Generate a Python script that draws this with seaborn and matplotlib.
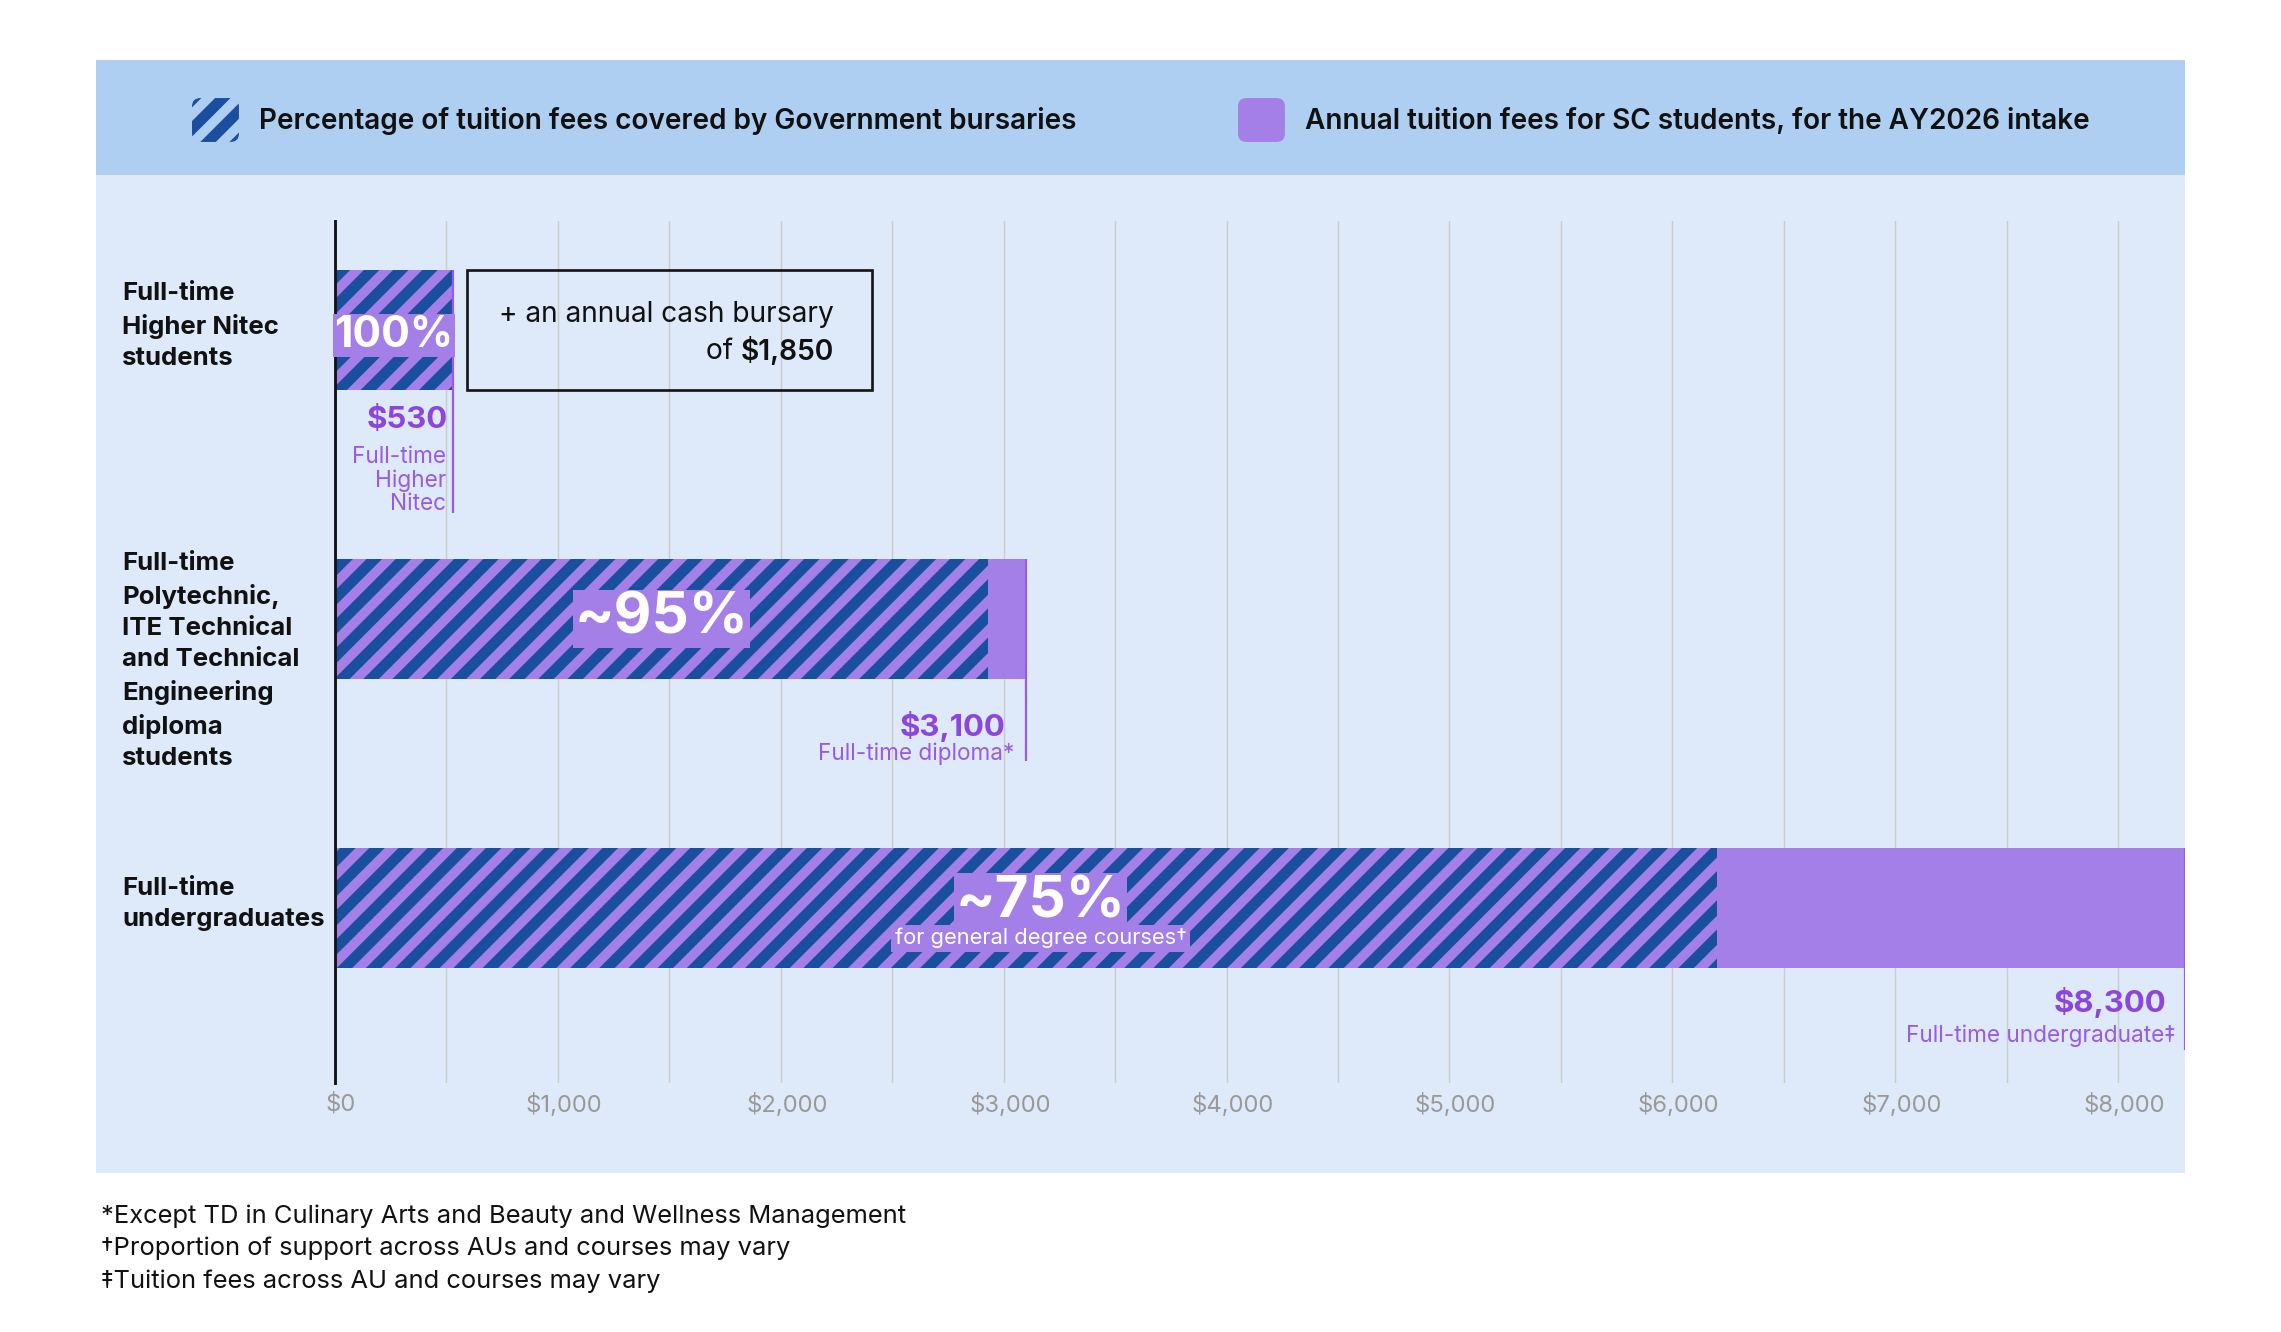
import numpy as np
import pandas as pd
import seaborn as sns
import matplotlib.pyplot as plt
import matplotlib.transforms as mtransforms
from matplotlib.patches import Patch, Rectangle, FancyBboxPatch
from matplotlib.legend_handler import HandlerPatch
from matplotlib.ticker import MultipleLocator, FuncFormatter

# data
groups = ['Higher Nitec', 'Diploma', 'Undergraduate']
group_labels = ['Full-time\nHigher Nitec\nstudents',
                'Full-time\nPolytechnic,\nITE Technical\nand Technical\nEngineering\ndiploma\nstudents',
                'Full-time\nundergraduates']
annual_fees = [530, 3100, 8300]
covered_fees = [530, 2930, 6200]
pct_labels = ['100%', '~95%', '~75%']
fee_labels = ['$530', '$3,100', '$8,300']
fee_notes = ['Full-time\nHigher\nNitec', 'Full-time diploma*', 'Full-time undergraduate\u2021']
footnotes = ['*Except TD in Culinary Arts and Beauty and Wellness Management',
             '\u2020Proportion of support across AUs and courses may vary',
             '\u2021Tuition fees across AU and courses may vary']
legend_labels = ['Percentage of tuition fees covered by Government bursaries',
                 'Annual tuition fees for SC students, for the AY2026 intake']

purple = '#A47FE8'
blue = '#1A4FA0'
label_purple = '#8D45DC'
note_purple = '#9A5BE3'
panel_bg = '#DEE9FA'
header_bg = '#AFCFF2'

sns.set_theme(style='white')
plt.rcParams['font.family'] = ['Inter', 'DejaVu Sans']
plt.rcParams['hatch.linewidth'] = 4.5

DPI = 175
W, H = 2281, 1332
fig = plt.figure(figsize=(W / DPI, H / DPI), dpi=DPI)
fig.patch.set_facecolor('white')

# background panel + legend band
fig.patches.append(Rectangle((96 / W, 1 - 1173 / H), (2185 - 96) / W, (1173 - 60) / H,
                             transform=fig.transFigure, fc=panel_bg, ec='none', zorder=-10))
fig.patches.append(Rectangle((96 / W, 1 - 175 / H), (2185 - 96) / W, 115 / H,
                             transform=fig.transFigure, fc=header_bg, ec='none', zorder=-9))

ax = fig.add_axes([335 / W, 1 - 1083 / H, (2185 - 335) / W, (1083 - 221) / H])
ax.set_facecolor('none')

df = pd.DataFrame({'group': groups, 'fee': annual_fees, 'covered': covered_fees})
bar_h = 0.415
sns.barplot(data=df, x='fee', y='group', orient='h', color=purple, saturation=1,
            width=bar_h, linewidth=0, ax=ax)
sns.barplot(data=df, x='covered', y='group', orient='h', color=purple, saturation=1,
            width=bar_h, linewidth=0, hatch='//', edgecolor=blue, ax=ax)

ax.set_xlim(0, 8300)
ax.set_ylim(2.606, -0.377)
ax.xaxis.set_major_locator(MultipleLocator(1000))
ax.xaxis.set_minor_locator(MultipleLocator(500))
ax.xaxis.set_major_formatter(FuncFormatter(lambda v, p: f'${v:,.0f}'))
ax.grid(axis='x', which='both', color='#CBCBCB', lw=0.6)
ax.set_axisbelow(True)
ax.tick_params(axis='x', which='both', length=0, pad=4, labelsize=9.8, labelcolor='#999999')
ax.tick_params(axis='y', left=False, labelleft=False)
shift = mtransforms.ScaledTranslation(2.5 / 72, 0, fig.dpi_scale_trans)
for t in ax.get_xticklabels():
    t.set_transform(t.get_transform() + shift)
ax.set_xlabel('')
ax.set_ylabel('')
for s in ['top', 'right', 'bottom']:
    ax.spines[s].set_visible(False)
ax.spines['left'].set_color('#151515')
ax.spines['left'].set_linewidth(1.2)

# category labels at the left
lab_tr = mtransforms.blended_transform_factory(fig.transFigure, ax.transData)
label_shift = [-0.015, 0.145, -0.012]
for i, lab in enumerate(group_labels):
    ax.text(122 / W, i + label_shift[i], lab, transform=lab_tr, ha='left', va='center',
            fontsize=10.6, fontweight='bold', color='#111111', linespacing=1.45)

# percentage labels on the hatched part
pct_dx = [0, 0, 65]
pct_shift = [0.02, 0.0, -0.02]
pct_size = [17.5, 24, 24]
for i, txt in enumerate(pct_labels):
    ax.text(covered_fees[i] / 2 + pct_dx[i], i + pct_shift[i], txt, ha='center', va='center',
            fontsize=pct_size[i], fontweight='bold', color='white',
            bbox=dict(boxstyle='square,pad=0.03', fc=purple, ec='none'))
ax.text(covered_fees[2] / 2 + pct_dx[2], 2 + 0.105, 'for general degree courses\u2020',
        ha='center', va='center', fontsize=9.0, color='white',
        bbox=dict(boxstyle='square,pad=0.15', fc=purple, ec='none'))

# fee call-outs under each bar
line_end = [0.633, 0.491, 0.491]
fee_y = [0.311, 0.373, 0.328]
note_y = [0.40, 0.466, 0.443]
fee_dx = [-2.2, -8.5, -7.6]
note_dx = [-3, -5, -4]
for i in range(len(groups)):
    ax.vlines(annual_fees[i], i - bar_h / 2, i + line_end[i], color=note_purple, lw=0.9)
    ax.annotate(fee_labels[i], (annual_fees[i], i + fee_y[i]), xytext=(fee_dx[i], 0),
                textcoords='offset points', ha='right', va='center',
                fontsize=12.8, fontweight='bold', color=label_purple)
    ax.annotate(fee_notes[i], (annual_fees[i], i + note_y[i]), xytext=(note_dx[i], 0),
                textcoords='offset points', ha='right', va='top' if i == 0 else 'center',
                multialignment='right', fontsize=9.3, color=note_purple, linespacing=1.1)

# cash bursary box
ax.add_patch(Rectangle((590, -bar_h / 2), 1820, bar_h, fill=False, ec='#151515', lw=1.1))
ax.text(2240, -0.055, '+ an annual cash bursary', ha='right', va='center',
        fontsize=11.6, color='#111111')
amt = ax.text(2240, 0.073, '$1,850', ha='right', va='center',
              fontsize=11.6, fontweight='semibold', color='#111111')
ax.annotate('of ', xy=(0, 0.5), xycoords=amt, ha='right', va='center',
            fontsize=11.6, color='#111111')


# legend in the top band, rounded swatches
def rounded_swatch(legend, orig_handle, xdescent, ydescent, width, height, fontsize):
    return FancyBboxPatch((-xdescent, -ydescent), width, height,
                          boxstyle='round,pad=0,rounding_size=3.5')


handles = [Patch(facecolor='none', edgecolor=blue, hatch='//', linewidth=0),
           Patch(facecolor=purple, edgecolor=purple, linewidth=0)]
for h, lab, x in zip(handles, legend_labels, [192 / W, 1238 / W]):
    lg = fig.legend([h], [lab], loc='center left', bbox_to_anchor=(x, 1 - 120 / H),
                    bbox_transform=fig.transFigure, frameon=False, borderpad=0,
                    borderaxespad=0, fontsize=11.5, handlelength=1.68, handleheight=2.04,
                    handletextpad=0.72,
                    handler_map={Patch: HandlerPatch(patch_func=rounded_swatch)})
    for t in lg.get_texts():
        t.set_fontweight('semibold')
        t.set_color('#111111')

# footnotes
for k, note in enumerate(footnotes):
    fig.text(101 / W, 1 - (1216 + 32.5 * k) / H, note, ha='left', va='center',
             fontsize=10.5, color='#111111')

fig.savefig('out.png', dpi=DPI)
